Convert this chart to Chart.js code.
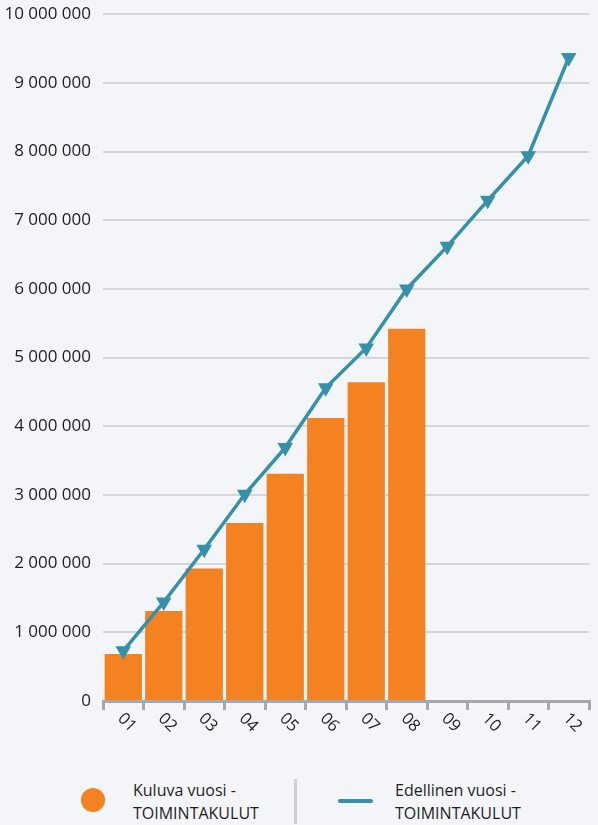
<!DOCTYPE html>
<html>
<head>
<meta charset="utf-8">
<script src="https://cdn.jsdelivr.net/npm/chart.js@4/dist/chart.umd.min.js"></script>
<style>
  html, body { margin: 0; padding: 0; background: #f4f5f9; }
  body { width: 598px; height: 825px; position: relative; overflow: hidden; font-family: "Open Sans", "Noto Sans", sans-serif; }
  #wrap { position: absolute; left: 0; top: -8px; width: 598px; height: 773px; }
  #legend { position: absolute; left: 0; top: 765px; width: 598px; height: 60px; }
  .lg-item { position: absolute; top: 14px; font-size: 16px; line-height: 23px; color: #1e1e1e; }
  .lg-sep { position: absolute; left: 294px; top: 14px; width: 3px; height: 45px; background: #cfd0d3; }
</style>
</head>
<body>
<div id="wrap"><canvas id="c"></canvas></div>
<div id="legend"></div>
<script>
const categories = ['01','02','03','04','05','06','07','08','09','10','11','12'];
const currentYearValues = [684000, 1310000, 1930000, 2590000, 3310000, 4120000, 4640000, 5420000, null, null, null, null];
const previousYearValues = [730000, 1440000, 2210000, 3010000, 3690000, 4560000, 5140000, 6000000, 6620000, 7290000, 7940000, 9370000];
const seriesLabels = ['Kuluva vuosi - TOIMINTAKULUT', 'Edellinen vuosi - TOIMINTAKULUT'];
const yTicks = [0, 1000000, 2000000, 3000000, 4000000, 5000000, 6000000, 7000000, 8000000, 9000000, 10000000];

const ORANGE = '#f58220';
const TEAL = '#3590a9';
const FONT = '"Open Sans", "Noto Sans", sans-serif';

function fmt(v) { return String(v).replace(/\B(?=(\d{3})+(?!\d))/g, ' '); }

const xLabelPlugin = {
  id: 'xLabels',
  afterDraw(chart) {
    const sc = chart.scales.x;
    const ctx = chart.ctx;
    ctx.save();
    ctx.font = '16.5px ' + FONT;
    ctx.fillStyle = '#1e1e1e';
    ctx.textAlign = 'left';
    ctx.textBaseline = 'middle';
    categories.forEach((c, i) => {
      const x = sc.getPixelForValue(i);
      ctx.save();
      ctx.translate(x - 3, sc.top + 15);
      ctx.rotate(Math.PI / 4);
      ctx.fillText(c, 0, 0);
      ctx.restore();
    });
    ctx.restore();
  }
};

new Chart(document.getElementById('c'), {
  data: {
    labels: categories,
    datasets: [
      {
        type: 'line',
        label: seriesLabels[1],
        data: previousYearValues,
        borderColor: TEAL,
        backgroundColor: TEAL,
        borderWidth: 3.5,
        pointStyle: 'triangle',
        pointRotation: 180,
        pointRadius: 9,
        pointBorderWidth: 0,
        pointBackgroundColor: TEAL,
        tension: 0,
        order: 0
      },
      {
        type: 'bar',
        label: seriesLabels[0],
        data: currentYearValues,
        backgroundColor: ORANGE,
        borderWidth: 0,
        categoryPercentage: 1,
        barPercentage: 0.92,
        order: 1
      }
    ]
  },
  options: {
    responsive: true,
    maintainAspectRatio: false,
    animation: false,
    layout: { padding: { top: 0, right: 0, left: 0, bottom: 0 } },
    plugins: { legend: { display: false }, tooltip: { enabled: false } },
    scales: {
      x: {
        offset: true,
        grid: { offset: true, drawOnChartArea: false, drawTicks: true, tickLength: 9, color: '#a5a9ae', lineWidth: 3 },
        border: { display: true, color: '#a5a9ae', width: 3 },
        ticks: { display: false },
        afterFit(scale) { scale.height = 64; }
      },
      y: {
        min: 0,
        max: 10000000,
        afterBuildTicks(scale) { scale.ticks = yTicks.map(v => ({ value: v })); },
        grid: { color: '#d4d6da', lineWidth: 2, drawTicks: false },
        border: { display: false },
        ticks: {
          padding: 12,
          color: '#1e1e1e',
          font: { family: FONT, size: 17 },
          callback: (v) => fmt(v)
        },
        afterFit(scale) { scale.width = 103; }
      }
    }
  },
  plugins: [xLabelPlugin]
});

// HTML legend built from dataset labels/colors
const legend = document.getElementById('legend');
const parts = seriesLabels.map(l => l.split(' - '));
legend.innerHTML =
  '<div style="position:absolute;left:81px;top:23px;width:24px;height:24px;border-radius:50%;background:' + ORANGE + '"></div>' +
  '<div class="lg-item" style="left:133px">' + parts[0][0] + ' -<br>' + parts[0][1] + '</div>' +
  '<div class="lg-sep"></div>' +
  '<div style="position:absolute;left:338px;top:34px;width:35px;height:4px;border-radius:2px;background:' + TEAL + '"></div>' +
  '<div class="lg-item" style="left:395px">' + parts[1][0] + ' -<br>' + parts[1][1] + '</div>';
</script>
</body>
</html>
